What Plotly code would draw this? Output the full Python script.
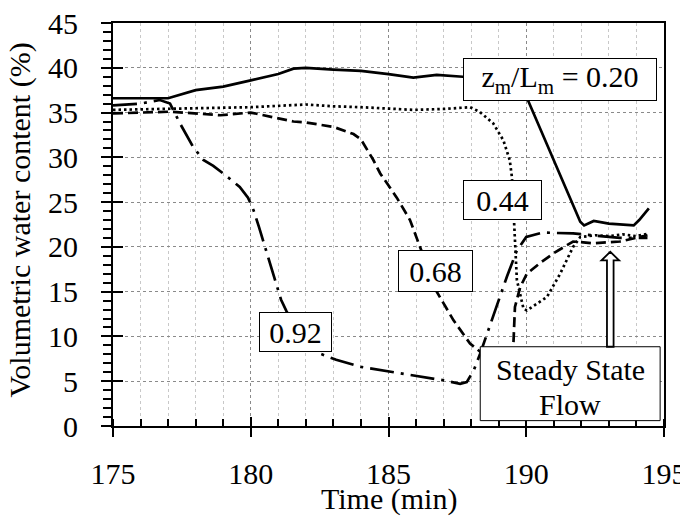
import plotly.graph_objects as go

# ---- data ----
t_020 = [175.0, 177.0, 178.0, 179.0, 180.0, 181.0, 181.55, 182.0, 183.0, 184.0, 185.0, 185.9, 186.75,
         187.7, 188.6, 189.4, 189.75, 190.5, 191.3, 191.96, 192.1, 192.45, 193.0, 193.9, 194.1, 194.45]
v_020 = [36.6, 36.6, 37.5, 37.9, 38.6, 39.3, 39.9, 40.0, 39.8, 39.65, 39.3, 38.9, 39.2,
         39.0, 39.0, 38.9, 38.6, 33.3, 27.5, 22.8, 22.4, 22.9, 22.6, 22.4, 23.0, 24.3]

t_044 = [175.0, 177.0, 180.0, 182.0, 183.0, 184.0, 185.9, 187.0, 187.96, 188.3, 188.8, 189.17, 189.4,
         189.48, 189.52, 189.57, 189.6, 189.66, 189.9, 190.02, 190.75, 191.23, 191.7, 191.96, 192.5,
         193.0, 193.5, 194.0, 194.45]
v_044 = [35.3, 35.4, 35.6, 35.9, 35.7, 35.6, 35.3, 35.4, 35.6, 35.1, 33.8, 31.9, 29.7,
         27.8, 25.0, 22.2, 19.3, 16.3, 13.1, 12.9, 14.4, 17.0, 20.0, 21.1, 21.3,
         21.2, 21.4, 21.2, 21.5]

t_068 = [175.0, 177.07, 178.9, 180.0, 181.55, 182.0, 183.0, 183.73, 184.0, 184.45, 184.7, 185.3, 185.78,
         186.2, 186.75, 187.36, 187.96, 188.33, 188.7, 189.1, 189.4, 189.53, 189.59, 189.78, 190.02,
         190.5, 191.0, 191.7, 192.44, 193.4, 194.4]
v_068 = [34.9, 35.1, 34.7, 35.0, 34.0, 33.9, 33.4, 32.6, 32.0, 29.7, 28.2, 25.5, 23.0,
         19.6, 15.0, 11.8, 9.2, 8.3, 7.0, 6.5, 7.5, 8.85, 13.3, 15.5, 17.0,
         18.2, 19.3, 20.6, 20.4, 20.6, 21.3]

t_092 = [175.0, 176.0, 176.7, 177.07, 177.43, 177.65, 177.9, 178.28, 178.64, 179.0, 179.6, 179.9, 180.1,
         180.3, 180.76, 181.1, 181.3, 181.8, 182.5, 183.1, 184.0, 184.7, 185.8, 187.0, 187.6, 187.84,
         188.1, 188.33, 189.3, 189.66, 190.0, 190.6, 191.7, 192.4, 193.4, 194.4]
v_092 = [35.8, 36.0, 36.4, 36.0, 33.8, 32.5, 31.2, 29.7, 29.05, 28.2, 26.7, 25.5, 24.1,
         22.2, 17.4, 14.1, 12.8, 10.0, 8.1, 7.4, 6.6, 6.25, 5.7, 5.1, 4.7, 4.9,
         6.25, 8.1, 16.7, 19.6, 21.1, 21.6, 21.5, 21.3, 21.0, 21.0]

x_ticks = [175, 180, 185, 190, 195]
y_ticks = [0, 5, 10, 15, 20, 25, 30, 35, 40, 45]

labels = ["z<sub>m</sub>/L<sub>m</sub> = 0.20", "0.44", "0.68", "0.92"]
label_t = [191.23, 189.15, 186.72, 181.62]
label_v = [38.67, 25.2, 17.3, 10.46]
label_w = [188, 73, 69, 67]
label_h = [37, 34, 36, 34]

FONT = "Times New Roman"
FS = 30

fig = go.Figure()

def add_line(t, v, dash):
    fig.add_trace(go.Scatter(x=t, y=v, mode="lines",
                             line=dict(color="black", width=2.7, dash=dash),
                             showlegend=False, hoverinfo="skip"))

add_line(t_020, v_020, "solid")
add_line(t_044, v_044, "2.5px,3px")
add_line(t_068, v_068, "10px,5px")
add_line(t_092, v_092, "24px,7px,3px,7px")

# helper trace for the overlay axes (inside half of the crossing major ticks)
fig.add_trace(go.Scatter(x=[None], y=[None], xaxis="x2", yaxis="y2",
                         showlegend=False, hoverinfo="skip"))

for txt, tx, vy, w, h in zip(labels, label_t, label_v, label_w, label_h):
    fig.add_annotation(x=tx, y=vy, xref="x", yref="y", text=txt, showarrow=False,
                       font=dict(family=FONT, size=FS, color="black"),
                       bgcolor="white", bordercolor="black", borderwidth=1, borderpad=2,
                       width=w, height=h, align="center", valign="middle")

# Steady State Flow box with hollow arrow
fig.add_shape(type="rect", xref="x", yref="y", x0=188.33, x1=194.86, y0=0.6, y1=8.85,
              line=dict(color="black", width=1), fillcolor="white", layer="above")
fig.add_annotation(x=191.6, y=6.3, xref="x", yref="y", text="Steady State", showarrow=False,
                   font=dict(family=FONT, size=FS, color="black"))
fig.add_annotation(x=191.6, y=2.4, xref="x", yref="y", text="Flow", showarrow=False,
                   font=dict(family=FONT, size=FS, color="black"))

ax_c = 193.05
sh, hh = 0.12, 0.32
path = (f"M {ax_c - sh} 8.85 L {ax_c - sh} 18.5 L {ax_c - hh} 18.5 L {ax_c} 19.45 "
        f"L {ax_c + hh} 18.5 L {ax_c + sh} 18.5 L {ax_c + sh} 8.85 Z")
fig.add_shape(type="path", xref="x", yref="y", path=path,
              line=dict(color="black", width=1.8), fillcolor="white", layer="above")

axis_font = dict(family=FONT, size=FS, color="black")

# page body has an ~8px margin: figure is 8px smaller and margins shifted by 8px
fig.update_layout(
    template="none",
    width=680, height=509,
    margin=dict(l=105, r=24, t=15, b=91, pad=0, autoexpand=False),
    paper_bgcolor="white", plot_bgcolor="white",
    font=axis_font,
    xaxis=dict(range=[175, 195], tickvals=x_ticks, ticktext=[str(v) for v in x_ticks],
               automargin=False, ticklabeloverflow="allow",
               ticks="outside", ticklen=9, tickwidth=2, tickcolor="black",
               showline=True, linewidth=2, linecolor="black", mirror=True,
               showgrid=True, gridcolor="#8a8a8a", griddash="dot", gridwidth=1,
               zeroline=False, tickfont=axis_font, ticklabelstandoff=11,
               minor=dict(dtick=1, ticks="inside", ticklen=7, tickwidth=1.5, tickcolor="black",
                          showgrid=True, gridcolor="#c8c8c8", griddash="dot", gridwidth=1)),
    yaxis=dict(range=[0, 45], tickvals=y_ticks, ticktext=[str(v) for v in y_ticks],
               automargin=False, ticklabeloverflow="allow",
               ticks="outside", ticklen=10, tickwidth=2, tickcolor="black",
               showline=True, linewidth=2, linecolor="black", mirror=True,
               showgrid=True, gridcolor="#8a8a8a", griddash="dot", gridwidth=1,
               zeroline=False, tickfont=axis_font, ticklabelstandoff=17,
               minor=dict(dtick=1, ticks="outside", ticklen=8, tickwidth=1.5, tickcolor="black",
                          showgrid=False)),
    xaxis2=dict(range=[175, 195], overlaying="x", tickvals=x_ticks, ticks="inside", ticklen=9,
                tickwidth=2, tickcolor="black", showticklabels=False, showgrid=False,
                showline=False, zeroline=False, anchor="y2", side="bottom", automargin=False),
    yaxis2=dict(range=[0, 45], overlaying="y", tickvals=y_ticks, ticks="inside", ticklen=10,
                tickwidth=2, tickcolor="black", showticklabels=False, showgrid=False,
                showline=False, zeroline=False, anchor="x2", side="left", automargin=False),
)

fig.add_annotation(text="Time (min)", xref="paper", yref="paper", x=0.5, y=-0.182,
                   showarrow=False, font=axis_font, yanchor="middle")
fig.add_annotation(text="Volumetric water content (%)", xref="paper", yref="paper",
                   x=-0.168, y=0.511, textangle=-90, showarrow=False, font=axis_font,
                   xanchor="center", yanchor="middle")

fig.write_html("out.html")
